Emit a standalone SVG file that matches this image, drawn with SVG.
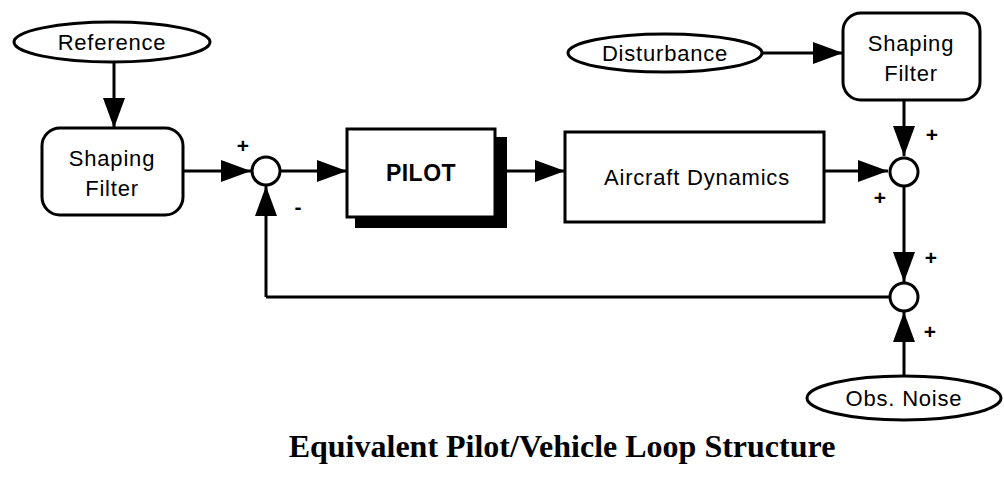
<svg xmlns="http://www.w3.org/2000/svg" width="1004" height="477" viewBox="0 0 1004 477">
  <defs>
    <marker id="arrow" markerUnits="userSpaceOnUse" markerWidth="32" markerHeight="24" refX="30" refY="11" orient="auto">
      <path d="M0,0 L30,11 L0,22 z" fill="#000"/>
    </marker>
    <style>
      .shape { fill: #fff; stroke: #000; stroke-width: 3; }
      .wire { fill: none; stroke: #000; stroke-width: 3; marker-end: url(#arrow); }
      .line { fill: none; stroke: #000; stroke-width: 3; }
      .label { font-family: "Liberation Sans", Arial, sans-serif; font-size: 22px; letter-spacing: 0.8px; text-anchor: middle; fill: #000; }
      .bold { font-weight: bold; font-size: 23px; letter-spacing: 0.5px; }
      .sign { font-family: "Liberation Sans", Arial, sans-serif; font-size: 21px; font-weight: bold; text-anchor: middle; fill: #000; }
      .title { font-family: "Liberation Serif", "Times New Roman", serif; font-size: 32px; font-weight: bold; text-anchor: middle; fill: #000; }
    </style>
  </defs>

  <!-- connectors -->
  <g id="connectors">
    <path class="wire" d="M114,62 L114,128"/>
    <path class="wire" d="M183,171 L251,171"/>
    <path class="wire" d="M281,171 L347,171"/>
    <path class="wire" d="M507,171 L565,171"/>
    <path class="wire" d="M824,171 L888,171"/>
    <path class="wire" d="M762,53 L843,53"/>
    <path class="wire" d="M904,100 L904,156"/>
    <path class="wire" d="M904,187 L904,282"/>
    <path class="wire" d="M904,376 L904,312"/>
    <path class="line" d="M889,297 L266,297"/>
    <path class="wire" d="M266,297 L266,186"/>
  </g>

  <!-- input ellipses -->
  <g id="reference">
    <ellipse class="shape" cx="112" cy="42" rx="98" ry="20"/>
    <text class="label" x="112" y="50">Reference</text>
  </g>
  <g id="disturbance">
    <ellipse class="shape" cx="665" cy="53" rx="97" ry="19"/>
    <text class="label" x="665" y="61">Disturbance</text>
  </g>
  <g id="obs-noise">
    <ellipse class="shape" cx="904" cy="398" rx="97" ry="22"/>
    <text class="label" x="904" y="406">Obs. Noise</text>
  </g>

  <!-- filters -->
  <g id="shaping-filter-ref">
    <rect class="shape" x="42" y="128" width="141" height="87" rx="18"/>
    <text class="label" x="112" y="166">Shaping</text>
    <text class="label" x="112" y="196">Filter</text>
  </g>
  <g id="shaping-filter-dist">
    <rect class="shape" x="843" y="13" width="137" height="87" rx="18"/>
    <text class="label" x="911" y="51">Shaping</text>
    <text class="label" x="911" y="81">Filter</text>
  </g>

  <!-- forward path blocks -->
  <g id="pilot">
    <rect x="355" y="137" width="152" height="91" fill="#000"/>
    <rect class="shape" x="347" y="129" width="148" height="88"/>
    <text class="label bold" x="421" y="181">PILOT</text>
  </g>
  <g id="aircraft-dynamics">
    <rect class="shape" x="565" y="132" width="259" height="90"/>
    <text class="label" x="697" y="185">Aircraft Dynamics</text>
  </g>

  <!-- summing junctions -->
  <g id="sum-error">
    <circle class="shape" cx="266" cy="171" r="14"/>
    <text class="sign" x="243" y="153">+</text>
    <text class="sign" x="298" y="214">-</text>
  </g>
  <g id="sum-output">
    <circle class="shape" cx="904" cy="172" r="14"/>
    <text class="sign" x="932" y="142">+</text>
    <text class="sign" x="880" y="205">+</text>
  </g>
  <g id="sum-observed">
    <circle class="shape" cx="904" cy="297" r="14"/>
    <text class="sign" x="931" y="265">+</text>
    <text class="sign" x="930" y="339">+</text>
  </g>

  <text class="title" x="562" y="457">Equivalent Pilot/Vehicle Loop Structure</text>
</svg>
